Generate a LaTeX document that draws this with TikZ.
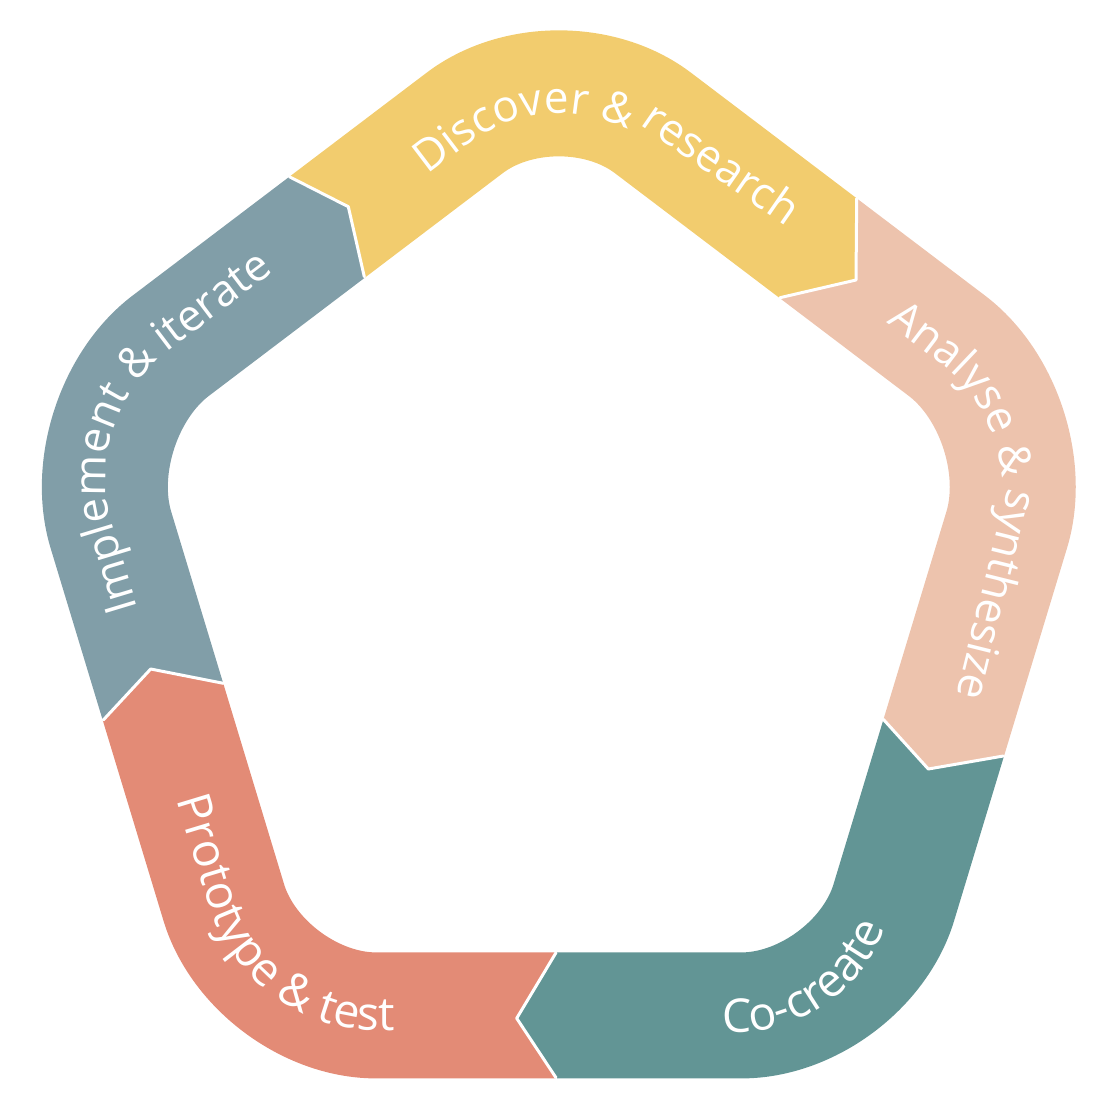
\documentclass[tikz,border=0pt]{standalone}
\usepackage{fontspec}
\setmainfont{Open Sans}
\usetikzlibrary{decorations.text,calc}
\definecolor{cYellow}{HTML}{F2CC6E}
\definecolor{cPeach}{HTML}{EDC3AD}
\definecolor{cTeal}{HTML}{629595}
\definecolor{cSalmon}{HTML}{E38B76}
\definecolor{cGrey}{HTML}{819EA8}
\AtBeginDocument{\fontsize{44}{52}\selectfont}
\begin{document}
\begin{tikzpicture}[x=1pt,y=-1pt,
  ringline/.style={line width=126pt,rounded corners=118pt},
  gapline/.style={draw=white,line width=3pt,line join=round,line cap=round},
  ringtext/.style={decorate,decoration={text along path,text color=white,text={#1}}}]
\useasboundingbox (0,0) rectangle (1108,1108);
% centre-line pentagon
\coordinate (M) at (558.8,1015.4);
\coordinate (T) at (558.8,51.6);
\coordinate (R) at (1040.9,417);
\coordinate (BR) at (859.6,1015.4);
\coordinate (BL) at (258,1015.4);
\coordinate (L) at (76.7,417);
\coordinate (C) at (558.8,584);
% chevron boundaries: inner, tip, outer, far
\coordinate (i1) at (364.3,276.7); \coordinate (v1) at (348.3,206.7); \coordinate (o1) at (289.3,176.7); \coordinate (F1) at (-115,-434.3);
\coordinate (i2) at (780,297.7); \coordinate (v2) at (856,280); \coordinate (o2) at (856.7,198.3); \coordinate (F2) at (1303.6,-380.3);
\coordinate (i3) at (883.3,719.3); \coordinate (v3) at (928.3,769); \coordinate (o3) at (1003.3,756); \coordinate (F3) at (1670.1,1014);
\coordinate (i4) at (556,952.7); \coordinate (v4) at (516.7,1018.3); \coordinate (o4) at (556,1077.7); \coordinate (F4) at (551.8,1818.3);
\coordinate (i5) at (223.3,683.3); \coordinate (v5) at (150.7,669); \coordinate (o5) at (103.3,720); \coordinate (F5) at (-579.9,924);
% segments
\begin{scope}
\clip (C) -- (i1) -- (v1) -- (o1) -- (F1) -- (F2) -- (o2) -- (v2) -- (i2) -- cycle;
\draw[ringline,cYellow] (M) -- (BL) -- (L) -- (T) -- (R) -- (BR) -- cycle;
\end{scope}
\begin{scope}
\clip (C) -- (i2) -- (v2) -- (o2) -- (F2) -- (F3) -- (o3) -- (v3) -- (i3) -- cycle;
\draw[ringline,cPeach] (M) -- (BL) -- (L) -- (T) -- (R) -- (BR) -- cycle;
\end{scope}
\begin{scope}
\clip (C) -- (i3) -- (v3) -- (o3) -- (F3) -- (F4) -- (o4) -- (v4) -- (i4) -- cycle;
\draw[ringline,cTeal] (M) -- (BL) -- (L) -- (T) -- (R) -- (BR) -- cycle;
\end{scope}
\begin{scope}
\clip (C) -- (i4) -- (v4) -- (o4) -- (F4) -- (F5) -- (o5) -- (v5) -- (i5) -- cycle;
\draw[ringline,cSalmon] (M) -- (BL) -- (L) -- (T) -- (R) -- (BR) -- cycle;
\end{scope}
\begin{scope}
\clip (C) -- (i5) -- (v5) -- (o5) -- (F5) -- (F1) -- (o1) -- (v1) -- (i1) -- cycle;
\draw[ringline,cGrey] (M) -- (BL) -- (L) -- (T) -- (R) -- (BR) -- cycle;
\end{scope}
% white separators
\draw[gapline] (o1) -- (v1) -- (i1);
\draw[gapline] (o2) -- (v2) -- (i2);
\draw[gapline] (o3) -- (v3) -- (i3);
\draw[gapline] (o4) -- (v4) -- (i4);
\draw[gapline] (o5) -- (v5) -- (i5);
% text paths
\coordinate (S1) at (427.7,174.9); \coordinate (T1) at (558.8,75.5); \coordinate (E1) at (957.3,377.5);
\coordinate (W1) at (639.5,124.8); \coordinate (X1) at (886,295.8);
\coordinate (S2) at (886.7,322.7); \coordinate (R2) at (1021.6,425); \coordinate (E2) at (900.9,910.3);
\coordinate (W2) at (1008,487); \coordinate (X2) at (935.6,778.2);
\coordinate (S3) at (722,1032.4); \coordinate (A3) at (735,1032.4); \coordinate (B3) at (889.5,913.8); \coordinate (E3) at (928.3,768.9);
\coordinate (S4) at (176.8,799.2); \coordinate (V4) at (246.9,1030.4); \coordinate (E4) at (700,1030.4);
\coordinate (S5) at (137.7,608); \coordinate (L5) at (80.2,418.1); \coordinate (E5) at (359.2,206.7);
\coordinate (P1a) at ($(T1)!112pt!(S1)$); \coordinate (P1b) at ($(T1)!112pt!(E1)$);
\coordinate (P2a) at ($(R2)!101pt!(S2)$); \coordinate (P2b) at ($(R2)!101pt!(E2)$);
\coordinate (P4a) at ($(V4)!132pt!(S4)$); \coordinate (P4b) at ($(V4)!132pt!(E4)$);
\coordinate (P5a) at ($(L5)!111pt!(S5)$); \coordinate (P5b) at ($(L5)!111pt!(E5)$);
% Discover & research
\path[ringtext={Discover {\&}}]
  (S1) -- (P1a) .. controls ($(P1a)!0.59!(T1)$) and ($(P1b)!0.59!(T1)$) .. (P1b) -- (E1);
\path[ringtext={research}] (W1) -- (X1);
% Analyse & synthesize
\path[ringtext={Analyse {\&}}]
  (S2) -- (P2a) .. controls ($(P2a)!0.6!(R2)$) and ($(P2b)!0.6!(R2)$) .. (P2b) -- (E2);
\path[ringtext={synthesize}] (W2) -- (X2);
% Co-create
{\fontsize{46.5}{54}\selectfont
\path[ringtext={Co-create}]
  (S3) -- (A3) .. controls (807.4,1032.4) and (870.8,983.7) .. (B3) -- (E3);
}
% Prototype & test
{\fontsize{46.5}{54}\selectfont
\path[ringtext={Prototype {\&} test}]
  (S4) -- (P4a) .. controls ($(P4a)!0.595!(V4)$) and ($(P4b)!0.595!(V4)$) .. (P4b) -- (E4);
}
% Implement & iterate
\path[ringtext={Implement {\&} iterate}]
  (S5) -- (P5a) .. controls ($(P5a)!0.6!(L5)$) and ($(P5b)!0.6!(L5)$) .. (P5b) -- (E5);
\end{tikzpicture}
\end{document}
